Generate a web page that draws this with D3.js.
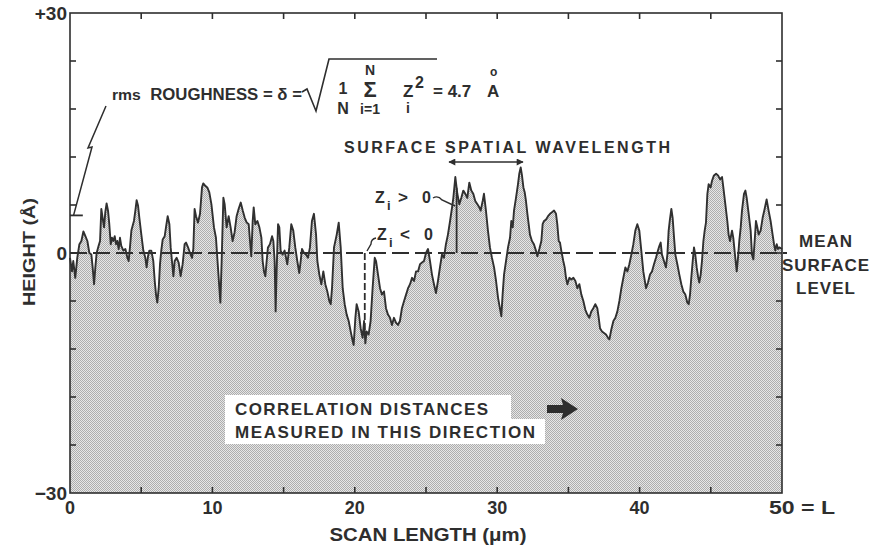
<!DOCTYPE html>
<html>
<head>
<meta charset="utf-8">
<script src="https://cdn.jsdelivr.net/npm/d3@7/dist/d3.min.js"></script>
<style>
  html, body { margin: 0; padding: 0; background: #fff; }
  svg { display: block; }
  text { font-family: "Liberation Sans", Arial, Helvetica, sans-serif; font-weight: bold; fill: #2e2e2e; white-space: pre; }
</style>
</head>
<body>
<svg id="chart" width="877" height="548"></svg>
<script>
// Surface profile: scan position (µm) and height relative to the mean level (Å)
const scanX = [
  0.00,0.14,0.23,0.37,0.51,0.66,0.80,0.94,1.08,1.22,1.36,1.50,1.59,1.69,1.78,1.87,2.01,2.11,2.20,2.29,
  2.39,2.48,2.57,2.67,2.76,2.86,2.95,3.04,3.14,3.23,3.32,3.42,3.51,3.60,3.75,3.89,4.03,4.12,4.21,4.31,
  4.40,4.49,4.59,4.68,4.78,4.87,5.01,5.15,5.29,5.38,5.48,5.57,5.71,5.85,5.95,6.04,6.13,6.23,6.32,6.41,
  6.51,6.65,6.74,6.86,6.98,7.07,7.16,7.26,7.35,7.49,7.63,7.77,7.91,8.05,8.15,8.29,8.43,8.57,8.66,8.75,
  8.85,8.99,9.13,9.27,9.36,9.50,9.64,9.78,9.93,
  10.11,10.25,10.39,10.49,10.56,10.65,10.77,10.86,11.00,11.14,11.28,11.42,11.56,11.70,11.84,11.99,12.13,12.27,12.41,12.55,
  12.64,12.73,12.83,12.90,13.01,13.16,13.30,13.44,13.53,13.62,13.72,13.81,13.90,14.04,14.19,14.28,14.37,14.44,14.51,14.61,
  14.70,14.79,14.93,15.07,15.17,15.26,15.40,15.54,15.68,15.82,15.96,16.10,16.20,16.29,16.43,16.57,16.71,16.85,16.99,17.13,
  17.28,17.37,17.51,17.65,17.79,17.93,18.07,18.21,18.31,18.40,18.54,18.73,18.87,19.01,19.15,19.29,19.43,19.57,19.71,19.85,
  19.92,20.04,20.13,
  20.27,20.41,20.55,20.65,20.74,20.83,20.97,21.11,21.25,21.40,21.49,21.63,21.77,21.91,22.05,22.19,22.33,22.47,22.61,22.75,
  22.89,23.03,23.17,23.31,23.46,23.60,23.74,23.88,24.02,24.16,24.30,24.44,24.58,24.72,24.86,25.00,25.14,25.28,25.42,25.56,
  25.70,25.84,25.98,26.12,26.26,26.40,26.54,26.69,26.83,26.92,27.06,27.20,27.34,27.48,27.62,27.76,27.90,28.04,28.18,28.32,
  28.46,28.61,28.75,28.84,28.98,29.07,29.21,29.35,29.49,29.63,29.78,29.92,30.06,
  30.29,30.38,30.48,30.62,30.76,30.90,30.99,31.09,31.18,31.32,31.46,31.55,31.65,31.74,31.84,31.93,32.02,32.12,32.21,32.30,
  32.44,32.58,32.72,32.82,32.96,33.10,33.19,33.29,33.43,33.57,33.71,33.85,33.99,34.13,34.22,34.32,34.41,34.50,34.64,34.74,
  34.83,34.93,35.07,35.21,35.35,35.49,35.63,35.77,35.91,36.05,36.19,36.33,36.47,36.61,36.75,36.89,37.03,37.13,37.22,37.36,
  37.50,37.64,37.78,37.88,38.01,38.16,38.30,38.44,38.58,38.72,38.86,39.00,39.14,39.28,39.42,39.56,39.70,39.84,39.98,40.12,
  40.26,
  40.45,40.59,40.73,40.87,41.01,41.15,41.29,41.39,41.48,41.57,41.71,41.85,41.95,42.04,42.13,42.23,42.32,42.42,42.51,42.65,
  42.79,42.93,43.07,43.21,43.35,43.45,43.54,43.63,43.73,43.82,43.91,44.01,44.10,44.19,44.29,44.38,44.48,44.57,44.66,44.76,
  44.85,44.99,45.08,45.22,45.37,45.51,45.65,45.79,45.88,46.02,46.16,46.25,46.35,46.49,46.58,46.72,46.82,46.91,47.00,47.10,
  47.19,47.33,47.43,47.52,47.66,47.80,47.89,47.99,48.08,48.17,48.27,48.36,48.50,48.64,48.78,48.92,49.06,49.20,49.34,49.44,
  49.53,49.63,49.72,49.81,50.00
];
const heightA = [
  -0.6,-2.3,-1.0,-3.1,-0.6,1.1,1.5,2.7,2.1,1.5,0.0,-0.2,-1.8,-3.9,-1.8,0.0,0.9,1.5,5.5,4.4,
  3.2,5.1,6.2,5.3,3.6,1.1,1.9,1.5,2.1,1.1,1.5,0.5,1.9,0.9,0.3,0.5,-0.6,-1.0,0.7,2.8,
  3.4,4.0,5.3,6.6,5.9,4.4,2.3,0.3,-0.6,-1.8,-0.4,0.3,0.3,-1.0,-3.5,-5.2,-6.2,-4.4,-1.4,0.3,
  1.7,2.1,3.2,4.6,3.6,0.7,-1.0,-2.9,-1.0,-0.6,-1.2,-2.9,-1.4,1.1,1.3,0.7,0.0,-0.6,0.5,5.5,
  4.6,3.8,4.9,8.2,8.7,8.4,8.2,7.6,6.1,
  3.2,1.9,-1.8,-4.4,-6.2,-1.0,6.9,6.1,3.2,4.6,3.2,1.5,2.6,4.6,5.5,6.3,5.3,4.4,3.8,3.6,
  1.5,-0.4,4.0,5.7,3.6,4.0,3.2,1.9,-1.0,-2.3,-2.9,-1.0,0.7,1.1,2.1,1.5,-1.0,-7.3,-2.3,3.6,
  3.2,0.3,-0.2,0.3,-0.6,-1.4,0.7,3.6,2.8,0.7,-1.0,-2.5,-1.0,0.5,0.0,-0.2,-0.6,0.7,4.0,4.9,
  2.3,-1.0,-2.7,-3.9,-2.3,-3.9,-4.8,-6.0,-6.4,-4.4,0.7,2.3,3.8,0.7,-4.4,-6.4,-7.7,-8.5,-9.8,-11.0,
  -11.5,-8.1,-6.4,
  -7.3,-9.4,-10.6,-8.5,-11.3,-9.8,-10.2,-8.5,-4.4,-0.6,-1.0,-2.7,-4.4,-5.2,-4.8,-6.9,-7.7,-8.1,-9.0,-8.1,
  -8.7,-9.0,-8.5,-6.9,-6.0,-5.2,-4.4,-3.9,-3.1,-3.5,-2.3,-2.3,-1.4,-1.2,-1.0,0.0,0.5,-1.0,-2.7,-3.9,
  -5.0,-3.5,-1.8,-0.2,-0.6,1.1,2.3,4.0,5.7,6.9,9.5,7.4,6.1,6.9,7.8,7.4,6.9,8.8,7.8,7.4,
  6.5,6.1,5.7,5.3,6.5,7.4,5.3,2.8,0.7,-0.6,-1.8,-3.5,-5.6,
  -7.9,-5.2,-2.7,-1.0,0.7,1.9,4.0,3.2,5.3,6.9,8.6,9.9,10.7,9.7,8.2,7.6,6.5,4.9,3.6,2.3,
  1.5,1.1,0.3,-0.4,0.5,1.5,3.6,4.0,4.2,4.6,4.9,5.1,5.3,4.9,3.6,1.5,1.3,0.3,-1.0,-1.8,
  -3.1,-3.9,-3.1,-3.3,-3.1,-3.5,-4.4,-3.9,-5.2,-6.0,-7.1,-7.7,-8.1,-7.3,-6.9,-6.4,-6.9,-8.1,-9.4,-9.8,
  -10.0,-10.2,-10.6,-10.8,-9.6,-8.5,-8.1,-7.3,-6.0,-4.4,-3.1,-1.8,-2.3,-1.4,-0.2,1.1,2.8,3.6,2.8,0.3,
  -2.3,
  -4.4,-3.7,-2.7,-2.3,-1.4,-0.6,0.3,0.9,1.3,-0.2,-1.0,-1.8,-0.2,2.8,4.2,5.5,4.4,1.9,-0.2,-1.4,
  -2.7,-3.9,-4.8,-5.2,-6.2,-6.4,-5.2,-3.1,-1.0,0.7,-0.2,-1.8,-2.9,-3.7,-2.7,-1.0,1.5,2.8,3.8,7.4,
  8.6,8.2,9.0,9.7,9.9,9.7,9.2,9.5,8.2,6.1,4.0,2.3,1.5,2.8,1.9,-0.6,-2.3,-0.6,1.5,3.2,
  5.3,7.4,7.8,6.9,4.9,2.8,-0.2,-0.8,1.5,4.0,3.2,2.3,2.8,4.4,5.5,6.7,5.3,4.0,2.3,1.1,
  0.3,1.1,0.5,0.7,0.5
];

// Axis ticks and labels
const xTicks = [0, 5, 10, 15, 20, 25, 30, 35, 40, 45, 50];
const xTickLabels = [0, 10, 20, 30, 40];
const yTicks = [-30, -24, -18, -12, -6, 0, 6, 12, 18, 24, 30];
const yTickLabels = [[30, "+30"], [0, "0"], [-30, "\u221230"]];

// Annotated quantities
const rmsRoughness = 4.7;        // Å
const positiveSampleX = 27.15;   // µm, example Z_i > 0
const negativeSampleX = 20.7;    // µm, example Z_i < 0

const profile = scanX.map((x, i) => ({ x, h: heightA[i] }));

const svg = d3.select("#chart");
const x = d3.scaleLinear().domain([0, 50]).range([70, 782]);
const y = d3.scaleLinear().domain([-30, 30]).range([493, 13]);
const ink = "#2e2e2e";

// Halftone stipple used for the material below the surface
const defs = svg.append("defs");
const pat = defs.append("pattern").attr("id", "stipple")
  .attr("width", 2).attr("height", 2).attr("patternUnits", "userSpaceOnUse");
pat.append("rect").attr("width", 2).attr("height", 2).attr("fill", "#e6e6e6");
pat.append("rect").attr("width", 1).attr("height", 1).attr("fill", "#adadad");
pat.append("rect").attr("x", 1).attr("y", 1).attr("width", 1).attr("height", 1).attr("fill", "#adadad");

const arrowHead = defs.append("marker").attr("id", "head")
  .attr("viewBox", "0 0 10 10").attr("refX", 9).attr("refY", 5)
  .attr("markerWidth", 10).attr("markerHeight", 7).attr("markerUnits", "userSpaceOnUse")
  .attr("orient", "auto-start-reverse");
arrowHead.append("path").attr("d", "M0,0 L10,5 L0,10 Z").attr("fill", ink);

// Filled profile
const area = d3.area().x(d => x(d.x)).y0(y(-30)).y1(d => y(d.h));
svg.append("path").datum(profile).attr("d", area).attr("fill", "url(#stipple)");

// Mean surface level
svg.append("line")
  .attr("x1", x(0)).attr("x2", x(50) + 5)
  .attr("y1", y(0)).attr("y2", y(0))
  .attr("stroke", ink).attr("stroke-width", 2.2).attr("stroke-dasharray", "17,6");

// Profile trace
const line = d3.line().x(d => x(d.x)).y(d => y(d.h));
svg.append("path").datum(profile).attr("d", line)
  .attr("fill", "none").attr("stroke", "#303030").attr("stroke-width", 1.9)
  .attr("stroke-linejoin", "round");

// Frame and inward ticks
const frame = svg.append("g").attr("stroke", ink).attr("stroke-width", 1.6).attr("fill", "none");
frame.append("rect").attr("x", x(0)).attr("y", y(30)).attr("width", x(50) - x(0)).attr("height", y(-30) - y(30));
const tl = 6;
xTicks.slice(1, -1).forEach(t => {
  frame.append("line").attr("x1", x(t)).attr("x2", x(t)).attr("y1", y(30)).attr("y2", y(30) + tl);
  frame.append("line").attr("x1", x(t)).attr("x2", x(t)).attr("y1", y(-30)).attr("y2", y(-30) - tl);
});
yTicks.slice(1, -1).forEach(t => {
  frame.append("line").attr("x1", x(0)).attr("x2", x(0) + tl).attr("y1", y(t)).attr("y2", y(t));
  frame.append("line").attr("x1", x(50)).attr("x2", x(50) - tl).attr("y1", y(t)).attr("y2", y(t));
});

// Tick labels
svg.selectAll(".ylab").data(yTickLabels).join("text")
  .attr("x", x(0) - 3).attr("y", d => y(d[0]) + 7)
  .attr("text-anchor", "end").attr("font-size", 19).text(d => d[1]);
svg.selectAll(".xlab").data(xTickLabels).join("text")
  .attr("x", d => x(d)).attr("y", 514)
  .attr("text-anchor", "middle").attr("font-size", 18).text(d => d);
svg.append("text").attr("x", x(50) - 13).attr("y", 514).attr("font-size", 18)
  .attr("textLength", 66).attr("lengthAdjust", "spacingAndGlyphs").text("50 = L");

// Axis titles
svg.append("text").attr("x", 428).attr("y", 541).attr("text-anchor", "middle")
  .attr("font-size", 18).attr("textLength", 197).attr("lengthAdjust", "spacingAndGlyphs")
  .text("SCAN LENGTH (\u03bcm)");
svg.append("text").attr("transform", "translate(35,252) rotate(-90)").attr("text-anchor", "middle")
  .attr("font-size", 17).attr("textLength", 108).attr("lengthAdjust", "spacingAndGlyphs")
  .text("HEIGHT (\u00c5)");

// Mean surface level label
["MEAN", "SURFACE", "LEVEL"].forEach((s, i) => {
  svg.append("text").attr("x", 826).attr("y", 247 + i * 23.5).attr("text-anchor", "middle")
    .attr("font-size", 17).attr("letter-spacing", 1).text(s);
});

// rms roughness marker and its leader
svg.append("line").attr("x1", x(0)).attr("x2", x(0.9))
  .attr("y1", y(rmsRoughness)).attr("y2", y(rmsRoughness))
  .attr("stroke", ink).attr("stroke-width", 1.8);
svg.append("path")
  .attr("d", `M${x(0.25)},${y(rmsRoughness)} L92,147 L88,148 L106,106`)
  .attr("fill", "none").attr("stroke", ink).attr("stroke-width", 1.5);

// rms roughness formula
const rmsText = svg.append("text").attr("x", 112).attr("y", 100).attr("font-size", 16)
  .attr("textLength", 190).attr("lengthAdjust", "spacingAndGlyphs");
rmsText.append("tspan").attr("font-size", 15).text("rms");
rmsText.append("tspan").text("  ROUGHNESS = \u03b4 =");
svg.append("path").attr("d", "M302,92 L307,89 L316,111 L329,59 L437,59")
  .attr("fill", "none").attr("stroke", ink).attr("stroke-width", 1.6);
svg.append("text").attr("x", 343).attr("y", 94).attr("text-anchor", "middle").attr("font-size", 16).text("1");
svg.append("text").attr("x", 343).attr("y", 114).attr("text-anchor", "middle").attr("font-size", 16).text("N");
svg.append("text").attr("x", 370).attr("y", 75).attr("text-anchor", "middle").attr("font-size", 14).text("N");
svg.append("text").attr("x", 370).attr("y", 97).attr("text-anchor", "middle").attr("font-size", 22).attr("font-weight", "normal").text("\u03a3");
svg.append("text").attr("x", 370).attr("y", 114).attr("text-anchor", "middle").attr("font-size", 14).text("i=1");
svg.append("text").attr("x", 403).attr("y", 97).attr("font-size", 17).text("Z");
svg.append("text").attr("x", 415).attr("y", 88).attr("font-size", 16).text("2");
svg.append("text").attr("x", 406).attr("y", 113).attr("font-size", 14).text("i");
svg.append("text").attr("x", 433).attr("y", 97).attr("font-size", 17).text("= 4.7");
svg.append("text").attr("x", 487).attr("y", 97).attr("font-size", 17).text("A");
svg.append("text").attr("x", 490).attr("y", 76).attr("font-size", 12).text("o");

// Spatial wavelength
svg.append("text").attr("x", 344).attr("y", 153).attr("font-size", 16)
  .attr("textLength", 326).attr("lengthAdjust", "spacing").text("SURFACE SPATIAL WAVELENGTH");
svg.append("line").attr("x1", 449).attr("x2", 523).attr("y1", 162).attr("y2", 162)
  .attr("stroke", ink).attr("stroke-width", 1.6)
  .attr("marker-start", "url(#head)").attr("marker-end", "url(#head)");

// Sample deviations Z_i
const interp = (xv) => {
  const i = d3.bisector(d => d.x).left(profile, xv);
  const a = profile[i - 1], b = profile[i];
  return a.h + (b.h - a.h) * (xv - a.x) / (b.x - a.x);
};
svg.append("line").attr("x1", x(positiveSampleX)).attr("x2", x(positiveSampleX))
  .attr("y1", y(0)).attr("y2", y(interp(positiveSampleX)))
  .attr("stroke", ink).attr("stroke-width", 1.8);
svg.append("line").attr("x1", x(negativeSampleX)).attr("x2", x(negativeSampleX))
  .attr("y1", y(0)).attr("y2", y(interp(negativeSampleX)))
  .attr("stroke", ink).attr("stroke-width", 1.8).attr("stroke-dasharray", "7,3");

function zLabel(x0, base, rel) {
  svg.append("text").attr("x", x0).attr("y", base).attr("font-size", 16).text("Z");
  svg.append("text").attr("x", x0 + 12).attr("y", base + 7).attr("font-size", 13).text("i");
  svg.append("text").attr("x", x0 + 23).attr("y", base).attr("font-size", 17).attr("font-weight", "normal").text(rel);
  svg.append("text").attr("x", x0 + 47).attr("y", base).attr("font-size", 16).text("0");
}
zLabel(375, 203, ">");
svg.append("path").attr("d", "M433,198 Q438,195 442,200 L455,206")
  .attr("fill", "none").attr("stroke", ink).attr("stroke-width", 1.4);
zLabel(377, 240, "<");
svg.append("path").attr("d", "M376,238 Q371,239 371,244 L367,251")
  .attr("fill", "none").attr("stroke", ink).attr("stroke-width", 1.4);

// Correlation direction note
svg.append("rect").attr("x", 225).attr("y", 395).attr("width", 286).attr("height", 26).attr("fill", "#fff");
svg.append("rect").attr("x", 225).attr("y", 419).attr("width", 320).attr("height", 25).attr("fill", "#fff");
svg.append("text").attr("x", 235).attr("y", 415).attr("font-size", 17)
  .attr("textLength", 253).attr("lengthAdjust", "spacing").text("CORRELATION DISTANCES");
svg.append("text").attr("x", 235).attr("y", 438).attr("font-size", 17)
  .attr("textLength", 300).attr("lengthAdjust", "spacing").text("MEASURED IN THIS DIRECTION");
svg.append("path").attr("d", "M547,405 L563,405 L561,398 L578,409 L561,420 L563,413 L547,413 Z")
  .attr("fill", ink);
</script>
</body>
</html>
